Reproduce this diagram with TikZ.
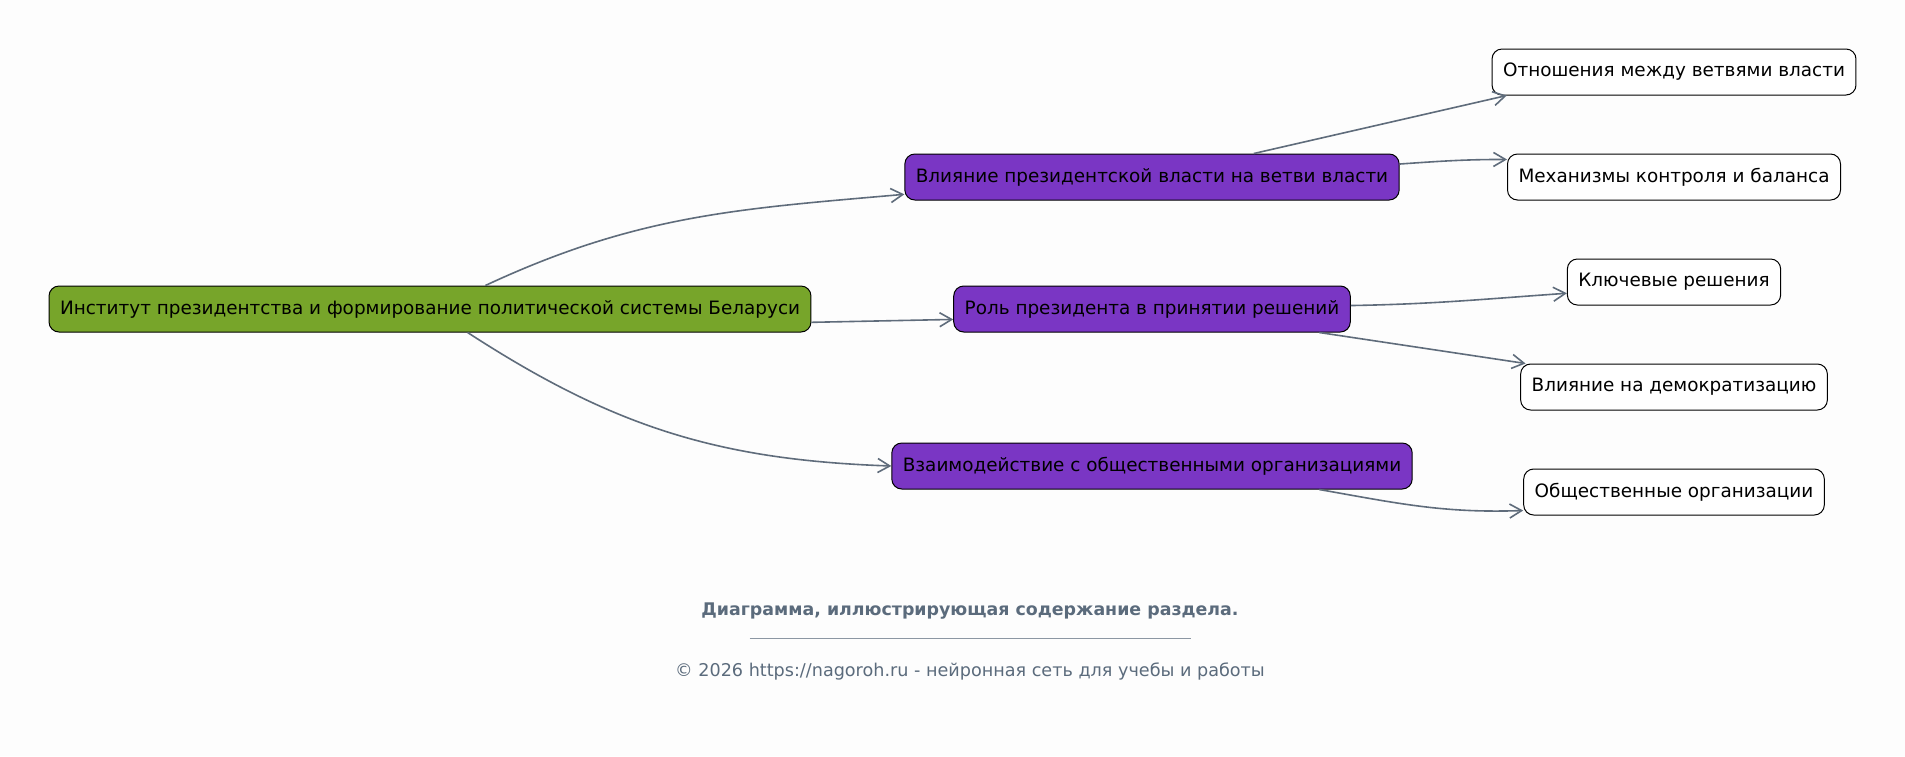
\documentclass[tikz,border=0pt]{standalone}
\usepackage{fontspec}
\setmainfont{DejaVu Sans}
\usetikzlibrary{positioning,arrows.meta}
\definecolor{rootgreen}{HTML}{77A52A}
\definecolor{branchpurple}{HTML}{7A36C4}
\definecolor{edgegray}{HTML}{5F6C7B}
\definecolor{captiongray}{HTML}{5B6B7C}
\definecolor{bgwhite}{HTML}{FDFDFD}

\begin{document}
\begin{tikzpicture}[x=0.5pt,y=-0.5pt,>={Straight Barb[length=6pt,width=7pt]},
  node distance=52.5pt,
  box/.style={draw,rounded corners=5pt,minimum height=23pt,inner xsep=5.5pt,
    font=\fontsize{9.2}{11}\selectfont,line width=0.5pt},
  root node/.style={box,fill=rootgreen},
  branch node/.style={box,fill=branchpurple},
  leaf node/.style={box,fill=white},
  link/.style={->,draw=edgegray,line width=0.8pt}]

  \fill[bgwhite] (0,0) rectangle (1905,756);
  \useasboundingbox (0,0) rectangle (1905,756);

  % main theme and its three branches
  \node[root node] (root) at (430,309) {Институт президентства и формирование политической системы Беларуси};
  \node[branch node] (role) [right of = root, node distance=361pt] {Роль президента в принятии решений};
  \node[branch node] (power) [above of = role, node distance=66pt] {Влияние президентской власти на ветви власти};
  \node[branch node] (society) [below of = role, node distance=78.5pt] {Взаимодействие с общественными организациями};

  % leaves
  \node[leaf node] (relations) at (1674,72) {Отношения между ветвями власти};
  \node[leaf node] (checks) [below of = relations] {Механизмы контроля и баланса};
  \node[leaf node] (decisions) [below of = checks] {Ключевые решения};
  \node[leaf node] (democracy) [below of = decisions] {Влияние на демократизацию};
  \node[leaf node] (orgs) [below of = democracy] {Общественные организации};

  \draw[link] (root.23) to[out=25,in=185] (power.184);
  \draw[link] (root.-2) to (role.183);
  \draw[link] (root.-32) to[out=-33,in=178] (society.180);

  \draw[link] (power.13) to (relations.188);
  \draw[link] (power.3.5) to[out=4,in=180] (checks.174);
  \draw[link] (role.1.7) to[out=1,in=184] (decisions.186);
  \draw[link] (role.-8) to (democracy.171);
  \draw[link] (society.-8.5) to[out=-10,in=182] (orgs.187);

  % caption
  \node[text=captiongray,font=\fontsize{8.7}{10}\selectfont\bfseries] (caption) at (970,611) {Диаграмма, иллюстрирующая содержание раздела.};
  \node[inner sep=0pt] (rule) at (970,638) {\color{captiongray!70}\rule{220.5pt}{0.5pt}};
  \node[text=captiongray,font=\fontsize{8.8}{10}\selectfont] (copyright) at (970,671) {© 2026 https://nagoroh.ru - нейронная сеть для учебы и работы};
\end{tikzpicture}
\end{document}
